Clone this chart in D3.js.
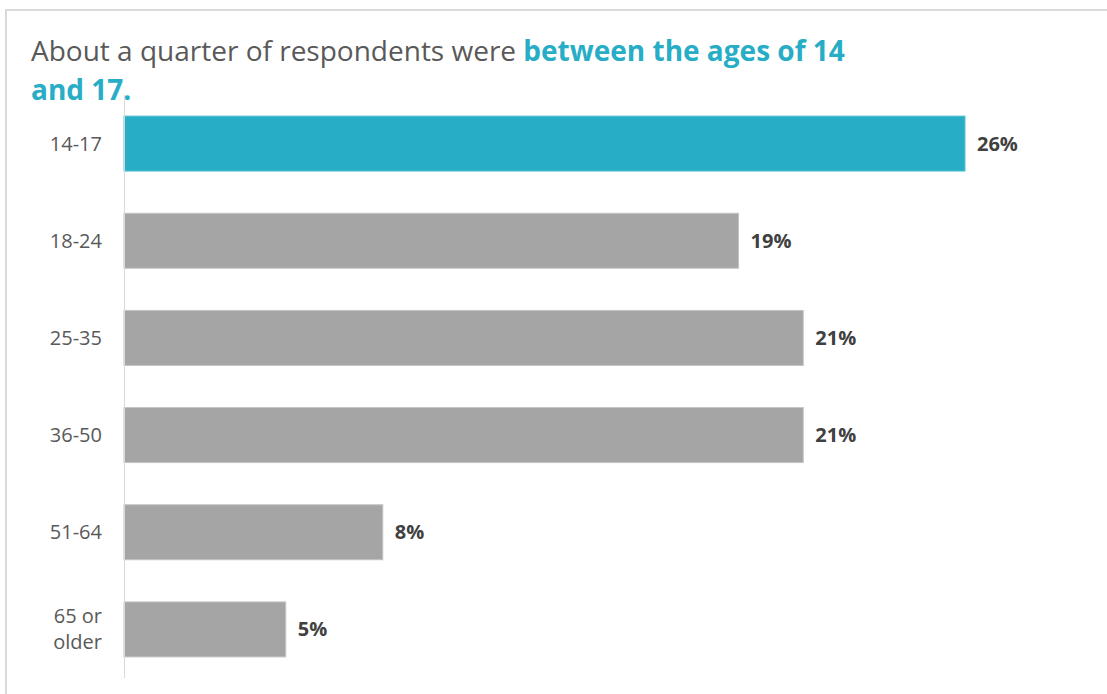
<!DOCTYPE html>
<html>
<head>
<meta charset="utf-8">
<script src="https://cdn.jsdelivr.net/npm/d3@7"></script>
<style>
  html, body { margin: 0; padding: 0; background: #ffffff; }
  svg { display: block; }
  text { font-family: "Open Sans", "Noto Sans", sans-serif; }
</style>
</head>
<body>
<svg id="chart" width="1107" height="694"></svg>
<script>
// Age groups of respondents and their shares (%)
const categories = ["14-17", "18-24", "25-35", "36-50", "51-64", "65 or older"];
const shares = [26, 19, 21, 21, 8, 5];
const highlighted = ["14-17"];

const titleLead = "About a quarter of respondents were ";
const titleEmphasis1 = "between the ages of 14";
const titleEmphasis2 = "and 17.";

const W = 1107, H = 694;
const teal = "#27adc5", grey = "#a5a5a5", textGrey = "#595959", labelDark = "#404040";

const svg = d3.select("#chart");

// Frame (top and left edges)
svg.append("line").attr("x1", 5).attr("x2", W).attr("y1", 10).attr("y2", 10)
  .attr("stroke", "#d9d9d9").attr("stroke-width", 2);
svg.append("line").attr("x1", 6).attr("x2", 6).attr("y1", 9).attr("y2", H)
  .attr("stroke", "#d9d9d9").attr("stroke-width", 2);

// Title
const title = svg.append("text").attr("x", 31).attr("y", 61)
  .attr("font-size", 28);
title.append("tspan").attr("fill", textGrey).text(titleLead);
title.append("tspan").attr("fill", teal).attr("font-weight", 700).text(titleEmphasis1);
svg.append("text").attr("x", 31).attr("y", 100).attr("font-size", 28)
  .attr("font-weight", 700).attr("fill", teal).text(titleEmphasis2);

// Scales
const x = d3.scaleLinear().domain([0, 26]).range([124, 965]);
const y = d3.scaleBand().domain(categories).range([95, 678])
  .paddingInner(0.434).paddingOuter(0.217);

const data = categories.map((c, i) => ({ cat: c, value: shares[i] }));

// Bars
svg.append("g").selectAll("rect").data(data).join("rect")
  .attr("x", x(0))
  .attr("y", d => y(d.cat))
  .attr("width", d => x(d.value) - x(0))
  .attr("height", y.bandwidth())
  .attr("fill", d => highlighted.includes(d.cat) ? teal : grey)
  .attr("stroke", d => highlighted.includes(d.cat) ? "#5cc3d6" : "#c4c4c4")
  .attr("stroke-width", 1);

// Category axis
const yAxis = svg.append("g").attr("transform", `translate(${x(0)},0)`)
  .call(d3.axisLeft(y).tickSize(0).tickPadding(22).tickFormat(() => ""));
yAxis.select(".domain").attr("stroke", "#d9d9d9").attr("d", `M0.5,${95}V${678}`);

yAxis.selectAll(".tick").each(function (d) {
  const t = d3.select(this).select("text").attr("fill", textGrey)
    .attr("font-size", 20).attr("text-anchor", "end").attr("x", -22).attr("dy", null);
  const words = d === "65 or older" ? ["65 or", "older"] : [d];
  t.text(null);
  const lh = 26;
  words.forEach((w, i) => {
    t.append("tspan").attr("x", -22)
      .attr("y", (i - (words.length - 1) / 2) * lh)
      .attr("dy", "0.35em").text(w);
  });
});

// Value labels
svg.append("g").selectAll("text").data(data).join("text")
  .attr("x", d => x(d.value) + 12)
  .attr("y", d => y(d.cat) + y.bandwidth() / 2)
  .attr("dy", "0.35em")
  .attr("font-size", 20).attr("font-weight", 700).attr("fill", labelDark)
  .text(d => d.value + "%");
</script>
</body>
</html>
